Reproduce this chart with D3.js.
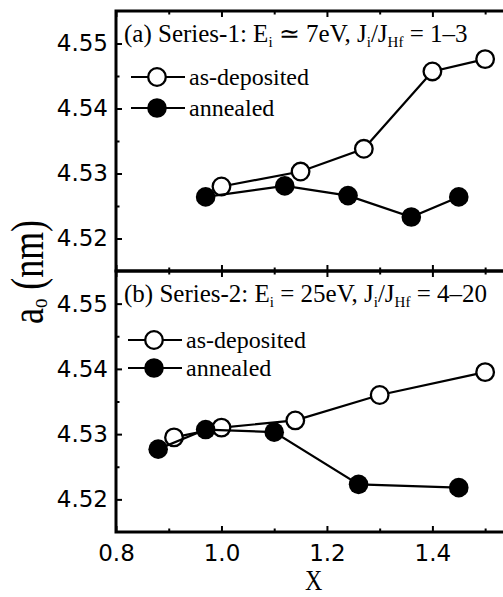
<!DOCTYPE html>
<html>
<head>
<meta charset="utf-8">
<script src="https://cdn.jsdelivr.net/npm/d3@7"></script>
<style>
  body { margin: 0; background: #fff; }
  svg { display: block; }
</style>
</head>
<body>
<svg id="chart" width="503" height="597"></svg>
<script>
// Axis ticks
const xTicks = [0.8, 1.0, 1.2, 1.4];
const xMinorTicks = [0.9, 1.1, 1.3, 1.5];
const yTicks = [4.52, 4.53, 4.54, 4.55];
const yMinorTicks = [4.525, 4.535, 4.545];

const seriesNames = ["as-deposited", "annealed"];

// (a) Series-1: Ei ≃ 7 eV
const xDep1 = [1.00, 1.15, 1.27, 1.40, 1.50];
const aDep1 = [4.5280, 4.5303, 4.5338, 4.5457, 4.5476];
const xAnn1 = [0.97, 1.12, 1.24, 1.36, 1.45];
const aAnn1 = [4.5264, 4.5281, 4.5266, 4.5233, 4.5264];

// (b) Series-2: Ei = 25 eV
const xDep2 = [0.91, 1.00, 1.14, 1.30, 1.50];
const aDep2 = [4.5295, 4.5310, 4.5321, 4.5360, 4.5395];
const xAnn2 = [0.88, 0.97, 1.10, 1.26, 1.45];
const aAnn2 = [4.5277, 4.5307, 4.5303, 4.5223, 4.5218];

const svg = d3.select("#chart");
const serif = "'Liberation Serif', 'Times New Roman', serif";
const sans = "'DejaVu Sans', sans-serif";

const left = 116, right = 511.5;
const x = d3.scaleLinear().domain([0.8, 1.55]).range([left, right]);

const panels = [
  {
    top: 11, bottom: 271,
    label: "(a)", series: "Series-1", energy: " \u2243 7eV, J", ratio: " = 1\u20133",
    dep: d3.zip(xDep1, aDep1), ann: d3.zip(xAnn1, aAnn1),
    legY: [77, 108], legX: 131, xLabels: false
  },
  {
    top: 271, bottom: 532,
    label: "(b)", series: "Series-2", energy: " = 25eV, J", ratio: " = 4\u201320",
    dep: d3.zip(xDep2, aDep2), ann: d3.zip(xAnn2, aAnn2),
    legY: [340, 368], legX: 128, xLabels: true
  }
];

function styleAxis(g, withText) {
  g.select(".domain").remove();
  g.selectAll(".tick line").attr("stroke", "#000").attr("stroke-width", 2);
  if (withText) {
    g.selectAll(".tick text")
      .attr("fill", "#000")
      .style("font-family", sans)
      .style("font-size", "23px");
  }
}

panels.forEach(p => {
  const y = d3.scaleLinear().domain([4.515, 4.555]).range([p.bottom, p.top]);
  const g = svg.append("g");

  // left axis: labelled major ticks and half-step minor ticks, pointing inward
  g.append("g").attr("transform", `translate(${left},0)`)
    .call(d3.axisLeft(y).tickValues(yTicks).tickFormat(d3.format(".2f")).tickSize(-6).tickPadding(8))
    .call(a => styleAxis(a, true));
  g.append("g").attr("transform", `translate(${left},0)`)
    .call(d3.axisLeft(y).tickValues(yMinorTicks).tickFormat("").tickSize(-3.5))
    .call(a => styleAxis(a, false));

  // top edge ticks
  g.append("g").attr("transform", `translate(0,${p.top})`)
    .call(d3.axisTop(x).tickValues(xTicks).tickFormat("").tickSize(-6))
    .call(a => styleAxis(a, false));
  g.append("g").attr("transform", `translate(0,${p.top})`)
    .call(d3.axisTop(x).tickValues(xMinorTicks).tickFormat("").tickSize(-3.5))
    .call(a => styleAxis(a, false));

  // bottom edge ticks (labels on the lower panel only)
  g.append("g").attr("transform", `translate(0,${p.bottom})`)
    .call(d3.axisBottom(x).tickValues(xTicks)
      .tickFormat(p.xLabels ? d3.format(".1f") : "").tickSize(-6).tickPadding(13))
    .call(a => styleAxis(a, p.xLabels));
  g.append("g").attr("transform", `translate(0,${p.bottom})`)
    .call(d3.axisBottom(x).tickValues(xMinorTicks).tickFormat("").tickSize(-3.5))
    .call(a => styleAxis(a, false));

  // panel frame
  g.append("rect")
    .attr("x", left).attr("y", p.top)
    .attr("width", right - left).attr("height", p.bottom - p.top)
    .attr("fill", "none").attr("stroke", "#000").attr("stroke-width", 3);

  // data series: as-deposited first, annealed drawn over it
  const line = d3.line().x(d => x(d[0])).y(d => y(d[1]));
  [[p.dep, false], [p.ann, true]].forEach(([data, filled]) => {
    g.append("path").datum(data)
      .attr("d", line)
      .attr("fill", "none").attr("stroke", "#000").attr("stroke-width", 2.2);
    g.selectAll(null).data(data).enter().append("circle")
      .attr("cx", d => x(d[0])).attr("cy", d => y(d[1]))
      .attr("r", filled ? 9.8 : 8.8)
      .attr("fill", filled ? "#000" : "#fff")
      .attr("stroke", "#000").attr("stroke-width", filled ? 0 : 2.3);
  });

  // panel title with sub-scripts
  const t = g.append("text")
    .attr("x", 124).attr("y", p.top + 31)
    .style("font-family", serif).style("font-size", "25px").attr("fill", "#000");
  t.append("tspan").text(`${p.label} ${p.series}: E`);
  t.append("tspan").attr("dy", 5).style("font-size", "15px").text("i");
  t.append("tspan").attr("dy", -5).text(p.energy);
  t.append("tspan").attr("dy", 5).style("font-size", "15px").text("i");
  t.append("tspan").attr("dy", -5).text("/J");
  t.append("tspan").attr("dy", 5).style("font-size", "15px").text("Hf");
  t.append("tspan").attr("dy", -5).text(p.ratio);

  // legend
  seriesNames.forEach((name, i) => {
    const ly = p.legY[i];
    g.append("line")
      .attr("x1", p.legX).attr("x2", p.legX + 54).attr("y1", ly).attr("y2", ly)
      .attr("stroke", "#000").attr("stroke-width", 2.2);
    g.append("circle")
      .attr("cx", p.legX + 26).attr("cy", ly)
      .attr("r", i === 1 ? 9.8 : 8.8)
      .attr("fill", i === 1 ? "#000" : "#fff")
      .attr("stroke", "#000").attr("stroke-width", i === 1 ? 0 : 2.3);
    g.append("text")
      .attr("x", p.legX + 58).attr("y", ly + 8)
      .style("font-family", serif).style("font-size", "24px").attr("fill", "#000")
      .text(name);
  });
});

// x-axis title
svg.append("text")
  .attr("transform", `translate(${(left + right) / 2},589.5) scale(0.8,1)`)
  .attr("text-anchor", "middle")
  .style("font-family", serif).style("font-size", "30px").attr("fill", "#000")
  .text("X");

// y-axis title: a_o (nm)
const yl = svg.append("text")
  .attr("transform", "translate(43,272) rotate(-90) scale(0.78,1)")
  .attr("text-anchor", "middle")
  .style("font-family", serif).style("font-size", "46px").attr("fill", "#000");
yl.append("tspan").text("a");
yl.append("tspan").attr("dy", 4).style("font-size", "24px").text("o");
yl.append("tspan").attr("dy", -4).text(" (nm)");
</script>
</body>
</html>
